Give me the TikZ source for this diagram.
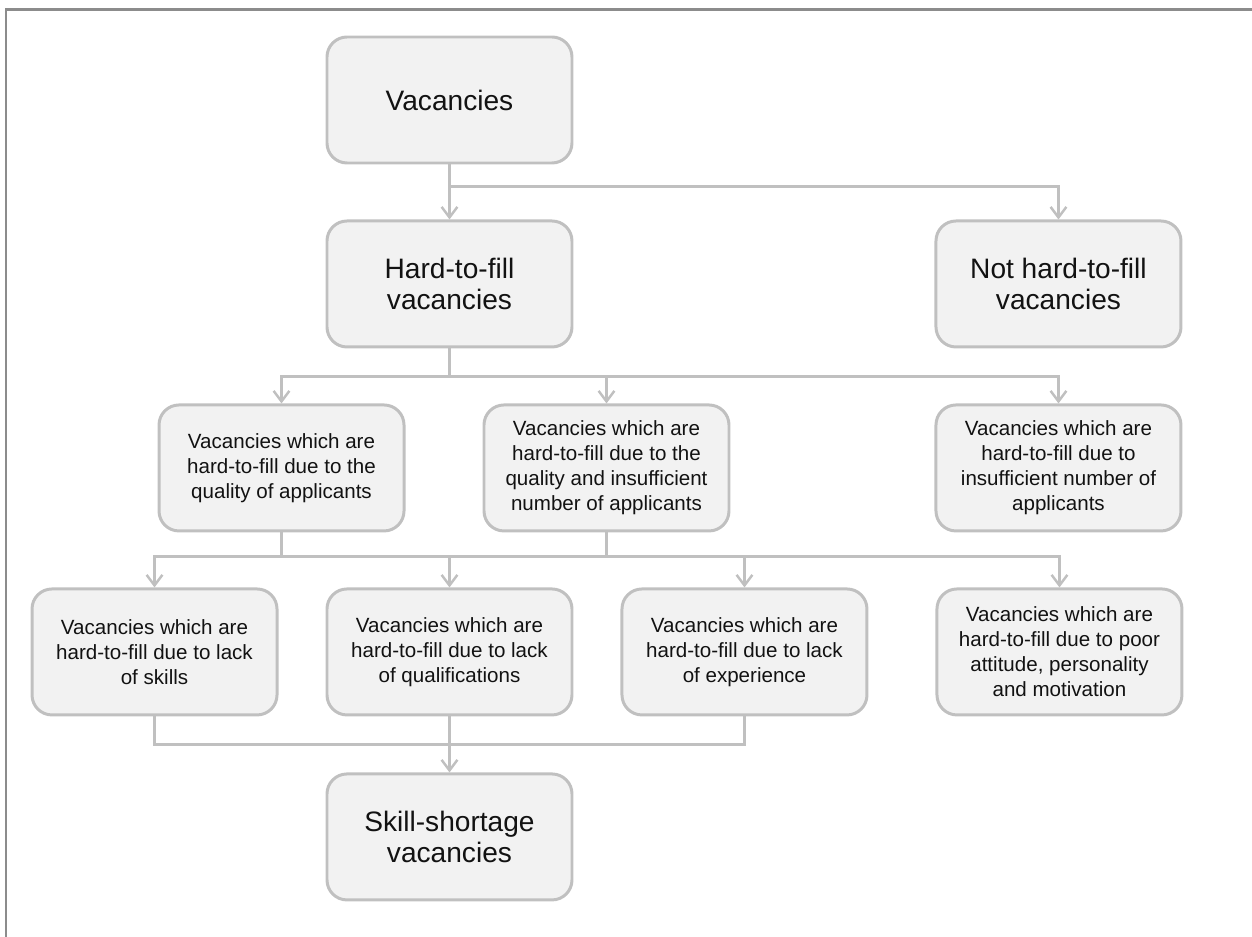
\documentclass[tikz,border=0pt]{standalone}
\usepackage{fontspec}
\setmainfont{Liberation Sans}
\usepackage{tikz}
\usetikzlibrary{arrows.meta, positioning, calc}

\definecolor{framegray}{HTML}{8C8C8C}
\definecolor{boxline}{HTML}{C0C0C0}
\definecolor{boxfill}{HTML}{F2F2F2}

\begin{document}
\begin{tikzpicture}[
  vbox/.style={rectangle, draw=boxline, fill=boxfill, line width=1.7pt, rounded corners=0.4cm,
    minimum width=4.9cm, minimum height=2.52cm, inner sep=0pt, align=center, text=black!93},
  bigtext/.style={vbox, font=\fontsize{16}{18}\selectfont},
  smalltext/.style={vbox, font=\fontsize{11.7}{14.2}\selectfont},
  link/.style={draw=boxline, line width=1.5pt},
  arrow/.style={link, -{Straight Barb[length=6pt, width=9pt, line width=1.4pt]}}
]
  \useasboundingbox (-8.99,2.0) rectangle (16.05,-16.74);
  % Frame
  \draw[framegray, line width=1.4pt] (16.05,1.81) -- (-8.87,1.81) -- (-8.87,-16.74);
  % Top levels
  \node[bigtext] (vac) at (0,0) {Vacancies};
  \node[bigtext, below=1.1cm of vac] (hard) {Hard-to-fill\\vacancies};
  \node[bigtext, right=7.22cm of hard] (nothard) {Not hard-to-fill\\vacancies};
  % Reasons
  \node[smalltext, below=1.1cm of hard, xshift=3.14cm] (qualins) {Vacancies which are\\hard-to-fill due to the\\quality and insufficient\\number of applicants};
  \node[smalltext, left=1.54cm of qualins] (qual) {Vacancies which are\\hard-to-fill due to the\\quality of applicants};
  \node[smalltext, right=4.08cm of qualins] (insuf) {Vacancies which are\\hard-to-fill due to\\insufficient number of\\applicants};
  % Lacks
  \node[smalltext, below=1.1cm of qualins, xshift=-3.14cm] (quals) {Vacancies which are\\hard-to-fill due to lack\\of qualifications};
  \node[smalltext, left=0.94cm of quals] (skills) {Vacancies which are\\hard-to-fill due to lack\\of skills};
  \node[smalltext, right=0.94cm of quals] (exper) {Vacancies which are\\hard-to-fill due to lack\\of experience};
  \node[smalltext, right=1.34cm of exper] (attit) {Vacancies which are\\hard-to-fill due to poor\\attitude, personality\\and motivation};
  % Result
  \node[bigtext, below=1.12cm of quals] (short) {Skill-shortage\\vacancies};
  % Connectors
  \draw[link] (vac.south) -- ++(0,-0.44) coordinate (j1);
  \draw[arrow] (j1) -- (hard.north);
  \draw[arrow] (j1) -| (nothard.north);
  \draw[link] (hard.south) -- ++(0,-0.56) coordinate (j2);
  \draw[arrow] (j2) -| (qual.north);
  \draw[arrow] (j2) -| (qualins.north);
  \draw[arrow] (j2) -| (insuf.north);
  \draw[link] (qual.south) -- ++(0,-0.48) coordinate (j3) -| (qualins.south);
  \draw[arrow] (j3) -| (skills.north);
  \draw[arrow] (j3) -| (quals.north);
  \draw[arrow] (j3) -| (exper.north);
  \draw[arrow] (j3) -| (attit.north);
  \draw[link] (skills.south) -- ++(0,-0.56) coordinate (j4) -| (exper.south);
  \draw[arrow] (quals.south) -- (short.north);
\end{tikzpicture}
\end{document}
